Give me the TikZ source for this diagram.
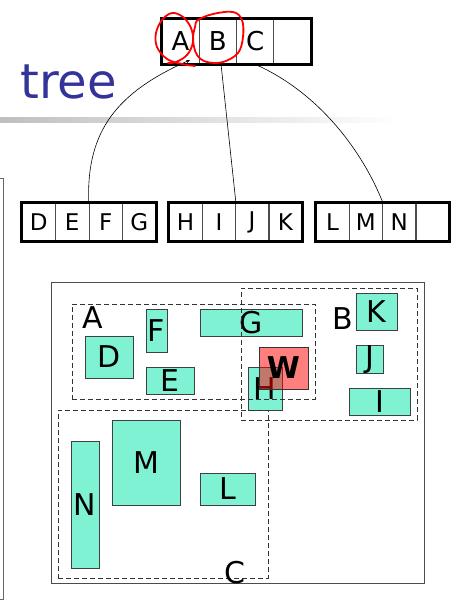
\documentclass[tikz,border=0pt]{standalone}
\usepackage{fontspec}
\setmainfont{DejaVu Sans}
\usetikzlibrary{arrows.meta,calc}
\definecolor{mbrfill}{RGB}{127,242,212}
\definecolor{titleblue}{RGB}{51,51,153}
\begin{document}
\begin{tikzpicture}[x=1pt,y=-1pt,
  cellA/.style={draw=black!70, line width=0.6pt, minimum width=37.25pt, minimum height=45pt, inner sep=0pt, font=\fontsize{26}{26}\selectfont},
  cellB/.style={draw=black!70, line width=0.6pt, minimum width=33.4pt, minimum height=38pt, inner sep=0pt, font=\fontsize{23}{23}\selectfont},
  outerbox/.style={draw=black, line width=2.6pt},
  mbr/.style={draw=black!75, line width=0.7pt, fill=mbrfill, inner sep=0pt, font=\fontsize{30}{30}\selectfont},
  grp/.style={draw=black!80, dash pattern=on 5pt off 3pt, line width=0.8pt, inner sep=0pt},
  grplabel/.style={inner sep=0pt, font=\fontsize{30}{30}\selectfont},
  link/.style={draw=black, line width=0.6pt},
  scribble/.style={draw=red, line width=1.8pt, line join=round, line cap=round}]
\useasboundingbox (0,0) rectangle (465,602);

% title and rule
\node[anchor=base west, inner sep=0pt, text=titleblue, font=\fontsize{48}{48}\selectfont] (title) at (20,98) {tree};
\shade[left color=black!25, right color=white] (0,117) rectangle (400,122);

% left frame
\draw[black!60, line width=0.8pt] (-2,178) -- (3,178) -- (3,599) -- (-2,599);

% root node
\node[cellA] (tA) at (180.6,41.5) {A};
\node[cellA] (tB) at (217.9,41.5) {B};
\node[cellA] (tC) at (255.1,41.5) {C};
\node[cellA] (tD) at (292.4,41.5) {};
\draw[outerbox] (tA.north west) rectangle (tD.south east);

% children
\node[cellB] (rD) at (38.75,222) {D};
\node[cellB] (rE) at (72.25,222) {E};
\node[cellB] (rF) at (105.75,222) {F};
\node[cellB] (rG) at (139.25,222) {G};
\draw[outerbox] (rD.north west) rectangle (rG.south east);
\node[cellB] (rH) at (185.6,222) {H};
\node[cellB] (rI) at (218.9,222) {I};
\node[cellB] (rJ) at (252.1,222) {J};
\node[cellB] (rK) at (285.4,222) {K};
\draw[outerbox] (rH.north west) rectangle (rK.south east);
\node[cellB] (rL) at (332.6,222) {L};
\node[cellB] (rM) at (365.9,222) {M};
\node[cellB] (rN) at (399.1,222) {N};
\node[cellB] (rX) at (432.4,222) {};
\draw[outerbox] (rL.north west) rectangle (rX.south east);

% connectors
\coordinate (pA) at (190,60);
\coordinate (pB) at (221,64);
\draw[link, -{Stealth[length=4pt,width=3.5pt]}] (rF.north west) .. controls (86,130) and (118,92) .. (pA);
\draw[link] (rI.north east) -- (pB);
\draw[link] (tC.south) .. controls (318,92) and (362,150) .. (rM.north east);

% red scribbles
\draw[scribble] plot[smooth, tension=0.6] coordinates {(195,66) (182,64) (167,59) (157,47) (156,33) (162,20) (172,13) (183,17) (191,28) (193,42) (187,55) (176,62) (168,63)};
\draw[scribble] plot[smooth cycle, tension=0.6] coordinates {(198,20) (213,14) (233,12) (242,20) (243,37) (238,53) (223,62) (207,62) (197,55) (193,40) (195,27)};

% spatial layout
\node[draw=black!70, line width=0.9pt, minimum width=373pt, minimum height=301pt, inner sep=0pt] (space) at (237.5,432.5) {};

\node[mbr, minimum width=48pt, minimum height=42pt] (D) at (109,357) {D};
\node[mbr, minimum width=21pt, minimum height=43pt] (F) at (156.5,330.5) {F};
\node[mbr, minimum width=102pt, minimum height=27pt] (G) at (251,322.5) {G};
\node[mbr, minimum width=48pt, minimum height=27pt] (E) at (170,380.5) {E};
\node[mbr, minimum width=34pt, minimum height=43pt] (H) at (265,388.5) {H};
\node[draw=black!80, line width=0.7pt, fill=red, fill opacity=0.5, text opacity=1, inner sep=0pt, minimum width=49pt, minimum height=42pt, font=\fontsize{30}{30}\selectfont\bfseries] (W) at (283.5,368) {W};
\node[mbr, minimum width=41pt, minimum height=37pt] (K) at (376.5,311.5) {K};
\node[mbr, minimum width=27pt, minimum height=27pt] (J) at (369.5,359.5) {J};
\node[mbr, minimum width=61pt, minimum height=27pt] (I) at (379.5,401.5) {I};
\node[mbr, minimum width=68pt, minimum height=85pt] (M) at (146,462.5) {M};
\node[mbr, minimum width=28pt, minimum height=127pt] (N) at (85,504.5) {N};
\node[mbr, minimum width=55pt, minimum height=32pt] (L) at (227.5,489) {L};

\node[grp, minimum width=243pt, minimum height=95pt] (gA) at (193.5,351.5) {};
\node[grp, minimum width=176pt, minimum height=132pt] (gB) at (329,354) {};
\node[grp, minimum width=210pt, minimum height=168pt] (gC) at (163,494) {};
\node[grplabel] (lA) at (92.5,318) {A};
\node[grplabel] (lB) at (342.5,319) {B};
\node[grplabel] (lC) at (234.5,572.5) {C};
\end{tikzpicture}
\end{document}
